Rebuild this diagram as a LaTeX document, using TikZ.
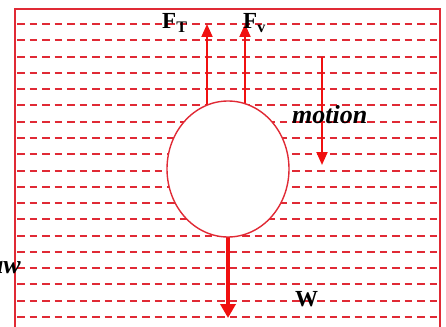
\documentclass[tikz,border=0pt]{standalone}
\usepackage{fontspec}
\setmainfont{Liberation Serif}
\usetikzlibrary{arrows.meta,calc,shapes.geometric}
\definecolor{dashred}{HTML}{E02A35}
\definecolor{arrred}{HTML}{F01010}
\tikzset{
  lbl/.style={font=\fontsize{23}{25}\selectfont\bfseries, inner sep=0pt},
  ilbl/.style={font=\fontsize{26}{28}\selectfont\bfseries\itshape, inner sep=0pt},
  fluidline/.style={dashred, line width=2pt, dash pattern=on 7.5pt off 5pt},
  force/.style={arrred, line width=2pt, -{Triangle[width=11pt,length=13pt]}},
  weight/.style={arrred, line width=4pt, -{Triangle[width=15pt,length=14pt]}},
}
\begin{document}
\begin{tikzpicture}[x=1pt,y=-1pt]
\useasboundingbox (0,0) rectangle (446,326);
\begin{scope}
\clip (0,0) rectangle (446,326);
% dashed fluid lines
\foreach \i in {0,...,18}{
  \pgfmathsetmacro{\yy}{24+int(16.28*\i+0.5)}
  \draw[fluidline] (17,\yy) -- (439,\yy);
}
% border
\draw[dashred, line width=1.5pt] (15,340) -- (15,9) -- (440,9) -- (440,340);
% arrow tips
\coordinate (tipT) at (207,24);
\coordinate (tipV) at (245,24);
\coordinate (motA) at (322,57);
\coordinate (motB) at (322,165);
\coordinate (tipW) at (228,318);
\draw[force] (207,140) -- (tipT);
\draw[force] (245,140) -- (tipV);
\draw[force] (motA) -- (motB);
\draw[weight] (228,200) -- (tipW);
% ball
\node[ellipse, draw=dashred, line width=1.4pt, fill=white, minimum width=122pt, minimum height=136pt, inner sep=0pt] (ball) at (228,169) {};
% labels
\node[lbl, anchor=base west] (FT) at (162,29) {F\textsubscript{T}};
\node[lbl, anchor=base west] (FV) at (243,29) {F\textsubscript{v}};
\node[ilbl, anchor=base west] (mot) at (292,123) {motion};
\node[lbl, anchor=base west] (W) at (295,306) {W};
\node[ilbl, anchor=base east] (aw) at (21,273) {aw};
\end{scope}
\end{tikzpicture}
\end{document}
